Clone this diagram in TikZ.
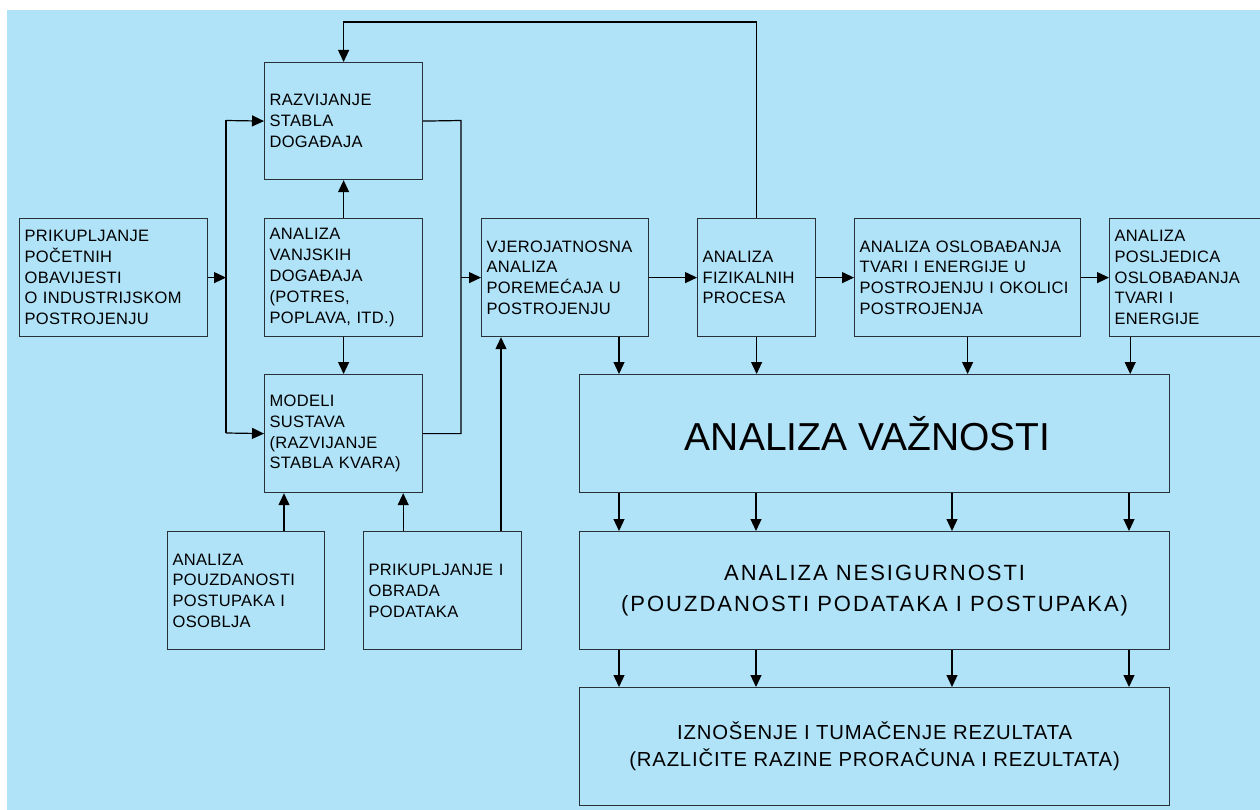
\documentclass[tikz,border=0pt]{standalone}
\usepackage{fontspec}
\setmainfont{Liberation Sans}
\newfontfamily\smf[LetterSpace=2]{Liberation Sans}
\newfontfamily\nsf[LetterSpace=9]{Liberation Sans}
\newfontfamily\izf[LetterSpace=4]{Liberation Sans}
\usetikzlibrary{arrows.meta,calc}
\definecolor{bg}{RGB}{176,226,248}
\definecolor{boxc}{RGB}{40,48,56}
\begin{document}
\begin{tikzpicture}[x=1pt,y=-1pt,
  sbox/.style={draw=boxc,line width=1.2pt,anchor=north west,inner xsep=5pt,inner ysep=0pt,align=left,minimum height=118pt,font=\smf\fontsize{16.5}{20.8}\selectfont},
  bbox/.style={draw=boxc,line width=1.2pt,anchor=north west,inner sep=0pt,align=center,minimum width=590pt,minimum height=118pt},
  arr/.style={draw=black,line width=1.2pt,-{Triangle[length=12pt,width=11pt]}},
  ln/.style={draw=black,line width=1.2pt}]
\useasboundingbox (0,0) rectangle (1260,810);
\clip (0,0) rectangle (1260,810);
\fill[white] (0,0) rectangle (1260,810);
\fill[bg] (7,10) rectangle (1260,810);

% small boxes
\node[sbox,text width=178pt] (A) at (19,218) {PRIKUPLJANJE\\POČETNIH\\OBAVIJESTI\\O INDUSTRIJSKOM\\POSTROJENJU};
\node[sbox,text width=148pt,minimum height=117pt] (RZ) at (264,62) {RAZVIJANJE\\STABLA\\DOGAĐAJA};
\node[sbox,text width=148pt] (VA) at (264,218) {ANALIZA\\VANJSKIH\\DOGAĐAJA\\(POTRES,\\POPLAVA, ITD.)};
\node[sbox,text width=148pt] (MS) at (264,374) {MODELI\\SUSTAVA\\(RAZVIJANJE\\STABLA KVARA)};
\node[sbox,text width=147pt] (PO) at (167,531) {ANALIZA\\POUZDANOSTI\\POSTUPAKA I\\OSOBLJA};
\node[sbox,text width=148pt] (PR) at (363,531) {PRIKUPLJANJE I\\OBRADA\\PODATAKA};
\node[sbox,text width=157pt] (VJ) at (481,218) {VJEROJATNOSNA\\ANALIZA\\POREMEĆAJA U\\POSTROJENJU};
\node[sbox,text width=108pt] (FZ) at (697,218) {ANALIZA\\FIZIKALNIH\\PROCESA};
\node[sbox,text width=216pt] (OS) at (854,218) {ANALIZA OSLOBAĐANJA\\TVARI I ENERGIJE U\\POSTROJENJU I OKOLICI\\POSTROJENJA};
\node[sbox,text width=190pt] (PS) at (1109,218) {ANALIZA\\POSLJEDICA\\OSLOBAĐANJA\\TVARI I\\ENERGIJE};

% big boxes
\node[bbox,font=\fontsize{39}{45}\selectfont] (VZ) at (579,374) {ANALIZA VAŽNOSTI\hspace*{14pt}};
\node[bbox,font=\nsf\fontsize{22}{31}\selectfont] (NS) at (579,531) {ANALIZA NESIGURNOSTI\\(POUZDANOSTI PODATAKA I POSTUPAKA)};
\node[bbox,font=\izf\fontsize{20.3}{27}\selectfont] (IZ) at (579,687) {IZNOŠENJE I TUMAČENJE REZULTATA\\(RAZLIČITE RAZINE PRORAČUNA I REZULTATA)};

% left distribution line
\coordinate (lt) at (226,120.5);
\coordinate (lb) at (226,433);
\draw[ln] (lt) -- (lb);
\draw[arr] (A.east) -- (A.east -| lt);
\draw[arr] (lt) -- (RZ.west);
\draw[arr] (lb) -- (MS.west);
\draw[arr] (VA.north) -- (RZ.south);
\draw[arr] (VA.south) -- (MS.north);

% right collecting line
\coordinate (rt) at (461,120.5);
\draw[ln] (RZ.east) -- (rt) |- (MS.east);
\draw[arr] (VJ.west -| rt) -- (VJ.west);

% inputs from below
\coordinate (m1) at ([xshift=20pt]MS.south west);
\coordinate (m2) at ([xshift=-20pt]MS.south east);
\coordinate (v1) at ([xshift=20pt]VJ.south west);
\draw[arr] (PO.north -| m1) -- (m1);
\draw[arr] (PR.north -| m2) -- (m2);
\draw[arr] (PR.north -| v1) -- (v1);

% main chain
\draw[arr] (VJ.east) -- (FZ.west);
\draw[arr] (FZ.east) -- (OS.west);
\draw[arr] (OS.east) -- (PS.west);

% feedback loop
\coordinate (tp) at (0,22);
\draw[arr] (FZ.north) |- (tp -| RZ.north) -- (RZ.north);

% into ANALIZA VAZNOSTI
\coordinate (a1) at ([xshift=40pt]VZ.north west);
\coordinate (a4) at ([xshift=-40pt]VZ.north east);
\draw[arr] (VJ.south -| a1) -- (a1);
\draw[arr] (FZ.south) -- (FZ.south |- VZ.north);
\draw[arr] (OS.south) -- (OS.south |- VZ.north);
\draw[arr] (PS.south -| a4) -- (a4);

% between big boxes
\foreach \dx in {40,177,373,550} {
  \draw[arr] ($(VZ.south west)+(\dx,0)$) -- ($(NS.north west)+(\dx,0)$);
  \draw[arr] ($(NS.south west)+(\dx,0)$) -- ($(IZ.north west)+(\dx,0)$);
}
\end{tikzpicture}
\end{document}
